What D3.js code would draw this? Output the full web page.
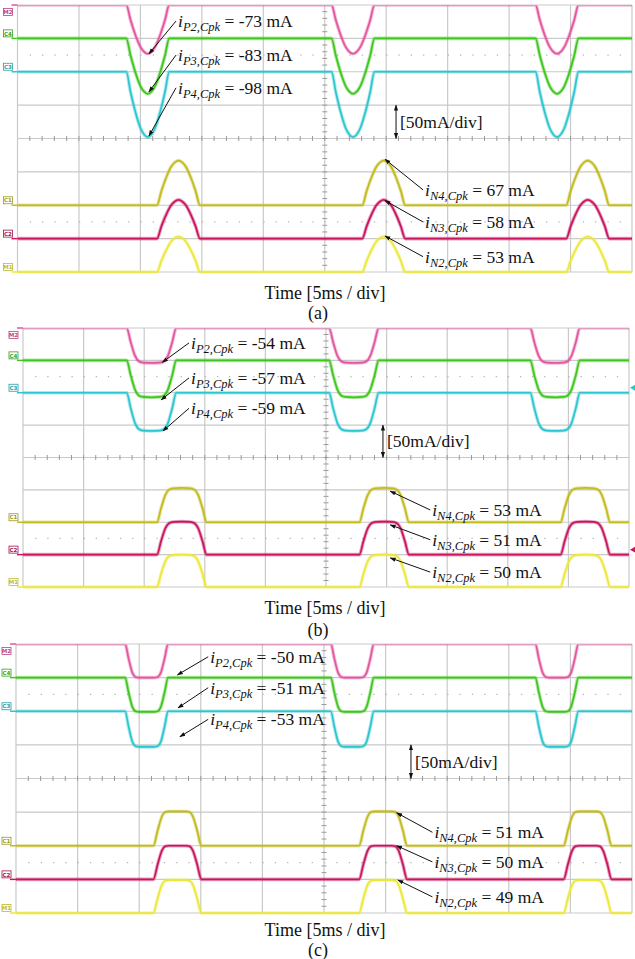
<!DOCTYPE html>
<html>
<head>
<meta charset="utf-8">
<script src="https://cdn.jsdelivr.net/npm/d3@7"></script>
<style>
  body { margin: 0; background: #fff; }
  svg { display: block; }
</style>
</head>
<body>
<script>
var W = 635, H = 959;

// scope screen: 10 div x 5 ms, 8 div x 50 mA
var timeDomain = [0, 50];
var currentDomain = [-200, 200];
var panelNames = ["(a)", "(b)", "(c)"];
var xTitle = "Time [5ms / div]";
var scaleText = "[50mA/div]";

// pulse centres in ms
var pCentres = [10.6, 27.3, 43.9];
var nCentres = [13.1, 29.8, 46.4];

// channels (top to bottom on screen)
var chNames = ["P2", "P3", "P4", "N4", "N3", "N2"];
var chTags = ["M2", "C4", "C3", "C1", "C2", "M1"];
var chOffsets = [200, 150, 100, -100, -150, -200];   // mA, screen position of zero
var chColours = ["#e4559f", "#3ec61f", "#2cc6cf", "#c2bb1d", "#c9155f", "#ece83a"];

// peak current of each channel, per panel (mA)
var peaksA = [-73, -83, -98, 67, 58, 53];
var peaksB = [-54, -57, -59, 53, 51, 50];
var peaksC = [-50, -51, -53, 51, 50, 49];

// pulse shapes: [ms from centre, fraction of peak]
var shapeA = [[-1.75, 0], [-1.4, 0.31], [-1.0, 0.62], [-0.6, 0.86], [-0.3, 0.96], [0, 1],
              [0.3, 0.96], [0.6, 0.86], [1.0, 0.62], [1.4, 0.31], [1.75, 0]];
var shapeB = [[-2.05, 0], [-1.7, 0.42], [-1.35, 0.8], [-1.05, 0.95], [-0.7, 0.99], [0, 1],
              [0.7, 0.99], [1.05, 0.95], [1.35, 0.8], [1.7, 0.42], [2.05, 0]];
var shapePC = [[-1.75, 0], [-1.45, 0.45], [-1.15, 0.86], [-0.9, 0.98], [-0.6, 1], [0, 1],
               [0.6, 1], [0.9, 0.98], [1.15, 0.86], [1.45, 0.45], [1.75, 0]];
var shapeNC = [[-1.95, 0], [-1.6, 0.45], [-1.25, 0.86], [-1.0, 0.98], [-0.7, 1], [0, 1],
               [0.7, 1], [1.0, 0.98], [1.25, 0.86], [1.6, 0.45], [1.95, 0]];

// layout of each screen shot and its annotations (ms / mA on the screen)
var panels = [
    { box: [17.5, 5, 632, 272], titleY: 293, nameY: 313, peaks: peaksA, pShape: shapeA, nShape: shapeA,
      tips: [[10.7, 127], [10.7, 70], [10.7, 4], [29.9, -31], [29.9, -93], [29.9, -146]],
      tails: [[12.9, 176], [12.9, 125], [12.9, 76], [33.0, -77], [33.0, -125], [33.0, -177]],
      unit: 30.8, pointers: [] },
    { box: [23, 328, 629, 587], titleY: 608, nameY: 630, peaks: peaksB, pShape: shapeB, nShape: shapeB,
      tips: [[11.5, 147], [11.4, 89], [11.55, 41], [30.3, -52], [30.3, -104], [30.3, -155]],
      tails: [[13.7, 177], [13.7, 123], [13.7, 76], [33.6, -81], [33.6, -127], [33.6, -177]],
      unit: 29.7, pointers: [2, 4] },
    { box: [16, 644, 632, 913], titleY: 930, nameY: 950, peaks: peaksC, pShape: shapePC, nShape: shapeNC,
      tips: [[13.1, 154], [13.15, 105], [13.3, 62], [30.9, -51], [30.9, -100], [31.0, -151]],
      tails: [[15.6, 181], [15.6, 135], [15.6, 88], [33.8, -80], [33.8, -124], [33.8, -176]],
      unit: 32.06, pointers: [] }
];

var serif = "'Liberation Serif', 'Times New Roman', serif";

var svg = d3.select("body").append("svg")
    .attr("width", W)
    .attr("height", H);

var defs = svg.append("defs");
defs.append("marker")
    .attr("id", "head")
    .attr("viewBox", "0 0 10 10")
    .attr("refX", 9).attr("refY", 5)
    .attr("markerWidth", 6).attr("markerHeight", 6)
    .attr("orient", "auto-start-reverse")
    .append("path")
    .attr("d", "M0,1.5L10,5L0,8.5z")
    .attr("fill", "#111");

function traceData(pulseCentres, shape, offset, peak) {
    var pts = [[timeDomain[0], offset]];
    pulseCentres.forEach(function (c) {
        shape.forEach(function (s) { pts.push([c + s[0], offset + peak * s[1]]); });
    });
    pts.push([timeDomain[1], offset]);
    return pts;
}

panels.forEach(function (p, pi) {
    var x0 = p.box[0], y0 = p.box[1], x1 = p.box[2], y1 = p.box[3];
    var x = d3.scaleLinear().domain(timeDomain).range([x0, x1]);
    var y = d3.scaleLinear().domain(currentDomain).range([y1, y0]);

    var g = svg.append("g");

    defs.append("clipPath").attr("id", "clip" + pi)
        .append("rect")
        .attr("x", x0).attr("y", y0 + 0.6)
        .attr("width", x1 - x0).attr("height", y1 - y0 + 2);

    // grid
    var grid = g.append("g").attr("stroke", "#c9c9c9").attr("stroke-width", 1.2);
    grid.selectAll("line.v")
        .data(d3.range(timeDomain[0], timeDomain[1] + 0.1, 5))
        .enter().append("line")
        .attr("x1", x).attr("x2", x)
        .attr("y1", y0).attr("y2", y1);
    grid.selectAll("line.h")
        .data(d3.range(currentDomain[0], currentDomain[1] + 0.1, 50))
        .enter().append("line")
        .attr("x1", x0).attr("x2", x1)
        .attr("y1", y).attr("y2", y);

    // ticks on the centre lines
    var ticks = g.append("g").attr("stroke", "#9a9a9a").attr("stroke-width", 1);
    ticks.selectAll("line.tx")
        .data(d3.range(timeDomain[0] + 1, timeDomain[1], 1))
        .enter().append("line")
        .attr("x1", x).attr("x2", x)
        .attr("y1", y(0) - 2.5).attr("y2", y(0) + 2.5);
    ticks.selectAll("line.ty")
        .data(d3.range(currentDomain[0] + 10, currentDomain[1], 10))
        .enter().append("line")
        .attr("x1", x(25) - 2.5).attr("x2", x(25) + 2.5)
        .attr("y1", y).attr("y2", y);

    // dotted rows at +/- 2.5 div
    g.append("g").selectAll("line")
        .data([125, -125])
        .enter().append("line")
        .attr("x1", x(1)).attr("x2", x1)
        .attr("y1", y).attr("y2", y)
        .attr("stroke", "#b5b5b5")
        .attr("stroke-width", 1.3)
        .attr("stroke-dasharray", "1.3," + (x(1) - x(0) - 1.3).toFixed(2));

    // traces
    var line = d3.line()
        .x(function (d) { return x(d[0]); })
        .y(function (d) { return y(d[1]); })
        .curve(d3.curveMonotoneX);

    var traces = g.append("g").attr("clip-path", "url(#clip" + pi + ")");
    chNames.forEach(function (name, ci) {
        var isP = ci < 3;
        var pts = traceData(isP ? pCentres : nCentres, isP ? p.pShape : p.nShape,
            chOffsets[ci], p.peaks[ci]);
        traces.append("path")
            .datum(pts)
            .attr("fill", "none")
            .attr("stroke", chColours[ci])
            .attr("stroke-width", 3.6)
            .attr("stroke-opacity", 0.4)
            .attr("d", line);
        traces.append("path")
            .datum(pts)
            .attr("fill", "none")
            .attr("stroke", chColours[ci])
            .attr("stroke-width", 1.7)
            .attr("d", line);
    });

    // channel tags on the left edge
    var tags = g.append("g");
    chNames.forEach(function (name, ci) {
        var ty = Math.max(y(chOffsets[ci]) - 5, y0 + 7);
        tags.append("line")
            .attr("x1", x0 - 6).attr("x2", x0)
            .attr("y1", y(chOffsets[ci])).attr("y2", y(chOffsets[ci]))
            .attr("stroke", chColours[ci]).attr("stroke-width", 1.5);
        tags.append("rect")
            .attr("x", x0 - 14).attr("y", ty - 3.5)
            .attr("width", 9).attr("height", 7)
            .attr("fill", "#fff")
            .attr("stroke", d3.color(chColours[ci]).darker(0.6))
            .attr("stroke-width", 0.8);
        tags.append("text")
            .attr("x", x0 - 9.5).attr("y", ty + 2.2)
            .attr("text-anchor", "middle")
            .attr("font-family", "DejaVu Sans, sans-serif")
            .attr("font-size", 5.5)
            .attr("font-weight", "bold")
            .attr("fill", d3.color(chColours[ci]).darker(0.6))
            .text(chTags[ci]);
    });

    // right edge pointers
    p.pointers.forEach(function (ci) {
        var py = y(chOffsets[ci]) - 5;
        g.append("path")
            .attr("d", "M" + (x1 + 1) + "," + py + "l6,-3.5v7z")
            .attr("fill", chColours[ci]);
    });

    // annotations
    var ann = g.append("g");
    chNames.forEach(function (name, ci) {
        var tip = p.tips[ci], tail = p.tails[ci];
        ann.append("line")
            .attr("x1", x(tail[0])).attr("y1", y(tail[1]))
            .attr("x2", x(tip[0])).attr("y2", y(tip[1]))
            .attr("stroke", "#111")
            .attr("stroke-width", 1)
            .attr("marker-end", "url(#head)");
        var val = p.peaks[ci];
        var t = ann.append("text")
            .attr("x", x(tail[0]) + 2)
            .attr("y", y(tail[1]) + 6)
            .attr("font-family", serif)
            .attr("font-size", 17.5)
            .attr("fill", "#111");
        t.append("tspan").attr("font-style", "italic").text("i");
        t.append("tspan").attr("font-style", "italic").attr("font-size", 12.5)
            .attr("dy", 4).text(name + ",Cpk");
        t.append("tspan").attr("dy", -4).text(" = " + val + " mA");
    });

    // 50 mA/div marker
    ann.append("line")
        .attr("x1", x(p.unit)).attr("x2", x(p.unit))
        .attr("y1", y(50)).attr("y2", y(0))
        .attr("stroke", "#111")
        .attr("stroke-width", 1)
        .attr("marker-start", "url(#head)")
        .attr("marker-end", "url(#head)");
    ann.append("text")
        .attr("x", x(p.unit) + 4)
        .attr("y", y(25) + 6)
        .attr("font-family", serif)
        .attr("font-size", 17.5)
        .attr("fill", "#111")
        .text(scaleText);

    // captions
    g.append("text")
        .attr("x", 325).attr("y", p.titleY + 6)
        .attr("text-anchor", "middle")
        .attr("font-family", serif)
        .attr("font-size", 18)
        .attr("fill", "#111")
        .text(xTitle);
    g.append("text")
        .attr("x", 318).attr("y", p.nameY + 6)
        .attr("text-anchor", "middle")
        .attr("font-family", serif)
        .attr("font-size", 18)
        .attr("fill", "#111")
        .text(panelNames[pi]);
});
</script>
</body>
</html>
